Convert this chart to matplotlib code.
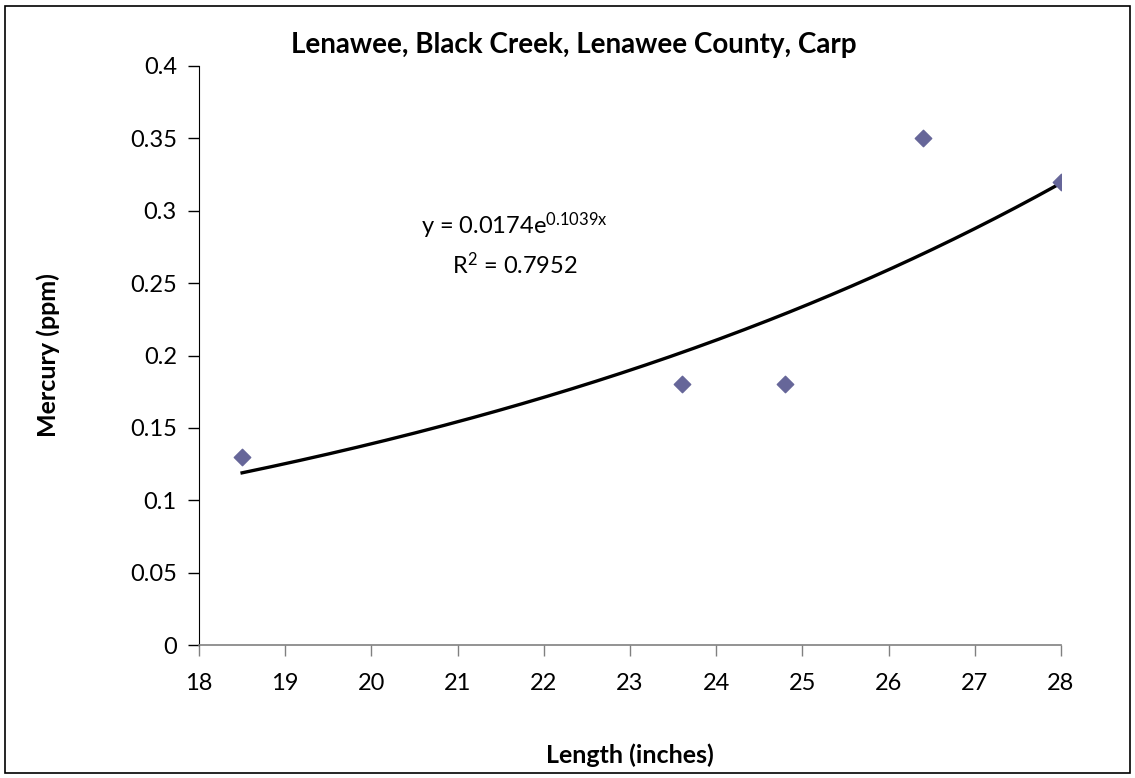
import numpy as np
import matplotlib.pyplot as plt
from matplotlib.patches import Rectangle

# Data
length_in = [18.5, 23.6, 24.8, 26.4, 28.0]
mercury_ppm = [0.13, 0.18, 0.18, 0.35, 0.32]

# Exponential trendline reported on the chart
coef_a = 0.0174
coef_b = 0.1039
r_squared = 0.7952

x_ticks = [18, 19, 20, 21, 22, 23, 24, 25, 26, 27, 28]
y_ticks = [0, 0.05, 0.1, 0.15, 0.2, 0.25, 0.3, 0.35, 0.4]
y_tick_labels = ["0", "0.05", "0.1", "0.15", "0.2", "0.25", "0.3", "0.35", "0.4"]

plt.rcParams['font.family'] = ['Lato', 'DejaVu Sans']
plt.rcParams['mathtext.fontset'] = 'custom'
plt.rcParams['mathtext.rm'] = 'Lato'
plt.rcParams['mathtext.it'] = 'Lato'

W, H = 1135, 778
fig = plt.figure(figsize=(W / 100, H / 100), dpi=100)
ax = fig.add_axes([199 / W, 1 - 645 / H, (1061 - 199) / W, (645 - 66) / H])

# outer chart border
fig.patches.append(Rectangle((5 / W, 5 / H), (W - 10) / W, (H - 11) / H,
                             transform=fig.transFigure, fill=False,
                             edgecolor='black', linewidth=1.2))

ax.scatter(length_in, mercury_ppm, marker='D', s=70, color='#666699', zorder=3)

xs = np.linspace(min(length_in), max(length_in), 200)
ax.plot(xs, coef_a * np.exp(coef_b * xs), color='black', linewidth=2.4, zorder=2)

ax.set_xlim(18, 28)
ax.set_ylim(0, 0.4)
ax.set_xticks(x_ticks)
ax.set_yticks(y_ticks)
ax.set_yticklabels(y_tick_labels)
ax.tick_params(direction='out', length=8, width=1, labelsize=17, pad=8, colors='black')
ax.tick_params(axis='x', color='#808080', pad=12)

for side in ['top', 'right']:
    ax.spines[side].set_visible(False)
ax.spines['left'].set_color('black')
ax.spines['bottom'].set_color('#808080')
ax.spines['bottom'].set_linewidth(1.2)

ax.set_xlabel("Length (inches)", fontsize=18, fontweight='bold', labelpad=36)
ax.set_ylabel("Mercury (ppm)", fontsize=18, fontweight='bold', labelpad=50)
fig.text(574 / W, 1 - 45 / H, "Lenawee, Black Creek, Lenawee County, Carp",
         fontsize=20, fontweight='bold', ha='center', va='center')

ax.text(21.66, 0.2895, r"y = %.4fe$^{\mathregular{%.4fx}}$" % (coef_a, coef_b), fontsize=17,
        ha='center', va='center')
ax.text(21.66, 0.263, r"R$^{\mathregular{2}}$ = %.4f" % r_squared, fontsize=17,
        ha='center', va='center')

plt.savefig('out.png', dpi=100)
